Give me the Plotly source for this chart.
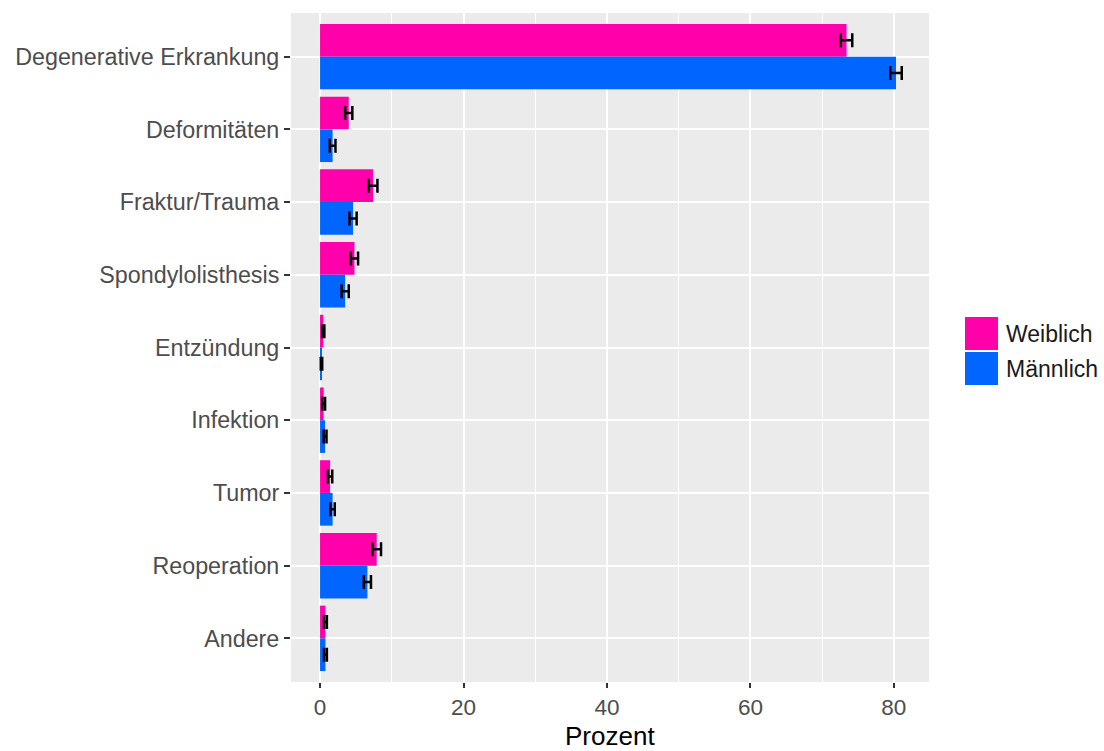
import plotly.graph_objects as go

# Indications and share of patients (%) per sex, with error half-widths
categories = [
    "Degenerative Erkrankung", "Deformitäten", "Fraktur/Trauma",
    "Spondylolisthesis", "Entzündung", "Infektion", "Tumor",
    "Reoperation", "Andere",
]
series_names = ["Weiblich", "Männlich"]
weiblich = [73.4, 4.0, 7.4, 4.8, 0.45, 0.5, 1.4, 7.9, 0.75]
maennlich = [80.3, 1.75, 4.6, 3.5, 0.2, 0.7, 1.75, 6.6, 0.75]
weiblich_err = [0.8, 0.5, 0.6, 0.5, 0.15, 0.2, 0.3, 0.6, 0.2]
maennlich_err = [0.8, 0.4, 0.5, 0.5, 0.1, 0.2, 0.3, 0.5, 0.2]
x_ticks = [0, 20, 40, 60, 80]
x_title = "Prozent"

colors = ["#ff00aa", "#0066ff"]
values = [weiblich, maennlich]
errors = [weiblich_err, maennlich_err]

fig = go.Figure()
for name, vals, errs, col in zip(series_names, values, errors, colors):
    fig.add_trace(go.Bar(
        y=categories, x=vals, name=name, orientation="h",
        marker=dict(color=col, line=dict(width=0)),
        error_x=dict(type="data", array=errs, visible=True,
                     color="black", thickness=2.5, width=7),
        showlegend=False,
    ))

L, R, T, B = 291, 175, 13, 69
pw, ph = 1104 - L - R, 751 - T - B


def px_x(px):
    return (px - L) / pw


def px_y(py):
    return (751 - B - py) / ph


# Hand-drawn legend keys with larger squares
key_rows = [(317, 350), (352, 385)]
for name, col, (top, bot) in zip(series_names, colors, key_rows):
    fig.add_shape(type="rect", xref="paper", yref="paper",
                  x0=px_x(965), x1=px_x(998), y0=px_y(bot), y1=px_y(top),
                  fillcolor=col, line=dict(width=0))
    fig.add_annotation(xref="paper", yref="paper", x=px_x(1004),
                       y=px_y((top + bot) / 2), text=name, showarrow=False,
                       xanchor="left", yanchor="middle",
                       font=dict(size=23, color="#1a1a1a"))

# x-axis title placed below the tick labels
fig.add_annotation(xref="paper", yref="paper", x=0.5, y=px_y(736),
                   text=x_title, showarrow=False, xanchor="center",
                   yanchor="middle", font=dict(size=26, color="black"))

fig.update_layout(
    width=1104, height=751,
    margin=dict(l=L, r=R, t=T, b=B),
    paper_bgcolor="white", plot_bgcolor="#ebebeb",
    barmode="group", bargap=0.1, bargroupgap=0,
    font=dict(family="Liberation Sans, Arial, sans-serif"),
)
fig.update_xaxes(
    range=[-4.05, 84.9], tickvals=x_ticks, ticks="outside", ticklen=5,
    tickwidth=2, tickcolor="#333333",
    tickfont=dict(size=22.5, color="#4d4d4d"),
    showgrid=True, gridcolor="white", gridwidth=2, zeroline=False,
    minor=dict(dtick=10, tick0=0, showgrid=True, gridcolor="white",
               gridwidth=1, ticks=""),
    showline=False, automargin=False,
)
fig.update_yaxes(
    categoryorder="array", categoryarray=categories,
    range=[8.6, -0.6], ticks="outside", ticklen=6, tickwidth=2,
    tickcolor="#333333", tickfont=dict(size=23.3, color="#4d4d4d"),
    showgrid=True, gridcolor="white", gridwidth=2, zeroline=False,
    showline=False, automargin=False,
)

fig.write_html("out.html")
